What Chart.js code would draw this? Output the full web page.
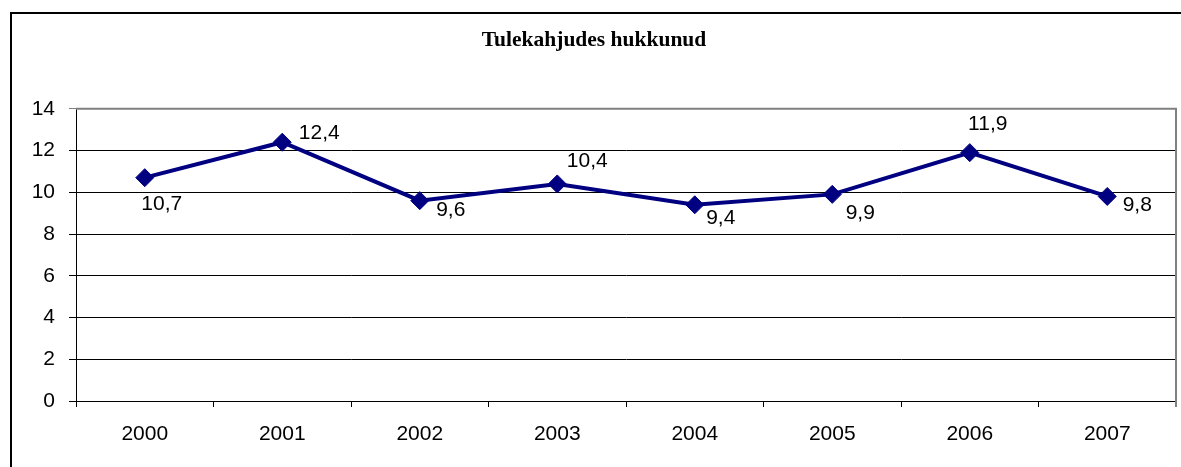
<!DOCTYPE html>
<html>
<head>
<meta charset="utf-8">
<script src="https://cdn.jsdelivr.net/npm/chart.js@4.4.1/dist/chart.umd.min.js"></script>
<style>
    body { margin:0; background:#fff; overflow:hidden; }
    #frame {
        position:absolute; left:10px; top:12px;
        width:1171px; height:455px;
        border-left:2px solid #000; border-top:2px solid #000;
    }
    #wrap { position:absolute; left:0; top:0; width:1169px; height:453px; }
</style>
</head>
<body>
<div id="frame"><div id="wrap"><canvas id="lineChart"></canvas></div></div>
<script>
const years = ['2000', '2001', '2002', '2003', '2004', '2005', '2006', '2007'];
const deaths = [10.7, 12.4, 9.6, 10.4, 9.4, 9.9, 11.9, 9.8];
const yTicks = [0, 2, 4, 6, 8, 10, 12, 14];

// where each value label sits relative to its marker (dx, dy)
const labelOffsets = [[17,27],[37,-9],[31,10],[30,-23],[26,13],[28,19],[18,-28],[30,9]];

const valueLabels = {
    id:'valueLabels',
    afterDatasetsDraw(chart){
        const ctx = chart.ctx;
        const meta = chart.getDatasetMeta(0);
        ctx.save();
        ctx.font = '21px "Liberation Sans", Arial, sans-serif';
        ctx.fillStyle = '#000';
        ctx.textAlign = 'center';
        ctx.textBaseline = 'middle';
        meta.data.forEach((pt, i) => {
            let txt = deaths[i].toFixed(1).replace('.', ',');
            ctx.fillText(txt, pt.x + labelOffsets[i][0], pt.y + labelOffsets[i][1]);
        });
        ctx.restore();
    }
};

const plotFrame = {
    id:'plotFrame',
    beforeDatasetsDraw(chart){
        const a = chart.chartArea;
        const ctx = chart.ctx;
        ctx.save();
        ctx.strokeStyle = '#808080';
        ctx.lineWidth = 2;
        ctx.beginPath();
        ctx.moveTo(a.left, a.top);
        ctx.lineTo(a.right, a.top);
        ctx.lineTo(a.right, a.bottom + 6);
        ctx.stroke();
        ctx.restore();
    }
};

const chartEl = document.getElementById('lineChart');

new Chart(chartEl, {
    type:'line',

    data:{
        labels: years,
        datasets:[{
            data: deaths,
            borderColor:'#000080',
            backgroundColor:'#000080',
            borderWidth:4,
            pointStyle:'rectRot',
            pointRadius:9,
            pointBorderWidth:1,
            pointBackgroundColor:'#000080',
            tension:0
        }]
    },

    plugins:[plotFrame, valueLabels],

    options:{
        responsive:true,
        maintainAspectRatio:false,
        animation:false,
        layout:{
            autoPadding:false,
            padding:{ left:0, right:5, top:0, bottom:0 }
        },
        plugins:{
            legend:{ display:false },
            tooltip:{ enabled:false },
            title:{
                display:true,
                text:'Tulekahjudes hukkunud',
                color:'#000',
                font:{ family:'"Liberation Serif", "Times New Roman", serif', size:21.5, weight:'bold' },
                padding:{ top:14, bottom:55 }
            }
        },
        scales:{
            x:{
                offset:true,
                afterFit(scale){
                    scale.height = 66;
                    scale.paddingLeft = 0;
                    scale.paddingRight = 0;
                },
                grid:{
                    offset:true,
                    drawOnChartArea:false,
                    drawTicks:true,
                    tickLength:6,
                    color:'#000'
                },
                border:{ color:'#000', width:1 },
                ticks:{
                    color:'#000',
                    padding:15,
                    maxRotation:0,
                    font:{ family:'"Liberation Sans", Arial, sans-serif', size:21 }
                }
            },
            y:{
                min:0,
                max:14,
                afterFit(scale){ scale.width = 64; },
                afterBuildTicks(scale){
                    scale.ticks = yTicks.map(v => ({ value:v }));
                },
                grid:{
                    color:(c) => c.tick && c.tick.value === 14 ? '#808080' : '#000',
                    lineWidth:1,
                    tickLength:7
                },
                border:{ color:'#000', width:1 },
                ticks:{
                    color:'#000',
                    padding:14,
                    font:{ family:'"Liberation Sans", Arial, sans-serif', size:21 }
                }
            }
        }
    }
});
</script>
</body>
</html>
